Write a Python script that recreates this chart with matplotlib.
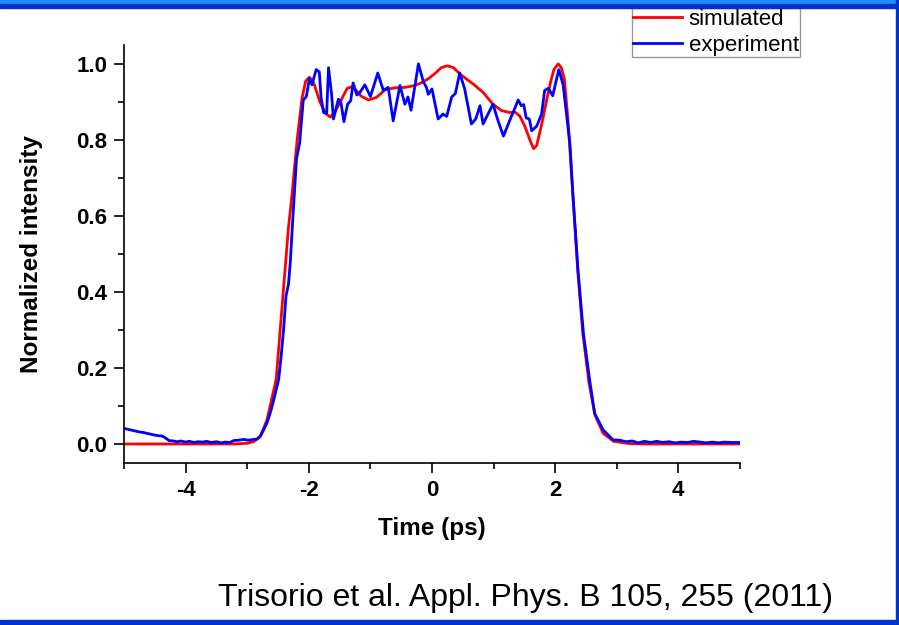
import matplotlib
matplotlib.use("Agg")
import matplotlib.pyplot as plt
from matplotlib.patches import Rectangle
from matplotlib.ticker import MultipleLocator

plt.rcParams["font.family"] = ["Liberation Sans", "DejaVu Sans"]

# simulated pulse (red)
sim_t = [-5.0, -3.2, -3.0, -2.9, -2.79, -2.68, -2.6, -2.53, -2.45, -2.40, -2.33, -2.27,
         -2.19, -2.11, -2.05, -1.99, -1.92, -1.82, -1.73, -1.65, -1.57, -1.49, -1.38,
         -1.30, -1.25, -1.15, -1.03, -0.9, -0.76, -0.6, -0.44, -0.28, -0.15, -0.05,
         0.05, 0.15, 0.25, 0.35, 0.45, 0.56, 0.67, 0.83, 0.99, 1.13, 1.26, 1.35, 1.43,
         1.51, 1.59, 1.65, 1.70, 1.78, 1.86, 1.93, 1.98, 2.05, 2.10, 2.15, 2.21, 2.29,
         2.37, 2.45, 2.55, 2.65, 2.78, 2.95, 3.2, 3.5, 5.0]
sim_v = [0.0, 0.0, 0.002, 0.006, 0.019, 0.063, 0.12, 0.17, 0.33, 0.43, 0.57, 0.66,
         0.80, 0.91, 0.955, 0.965, 0.95, 0.90, 0.87, 0.86, 0.875, 0.90, 0.935,
         0.94, 0.934, 0.915, 0.905, 0.912, 0.932, 0.937, 0.938, 0.943, 0.952, 0.962,
         0.975, 0.99, 0.995, 0.99, 0.974, 0.96, 0.947, 0.925, 0.894, 0.877, 0.872, 0.873, 0.862,
         0.835, 0.80, 0.777, 0.785, 0.84, 0.903, 0.955, 0.985, 1.0, 0.99, 0.96, 0.85, 0.65,
         0.45, 0.29, 0.16, 0.075, 0.028, 0.007, 0.001, 0.0, 0.0]

# measured pulse (blue)
exp_t = [-5.0, -4.92, -4.84, -4.76, -4.68, -4.6, -4.52, -4.45, -4.38, -4.32, -4.27, -4.2,
         -4.14, -4.08, -4.0, -3.94, -3.86, -3.8, -3.72, -3.66, -3.58, -3.5, -3.42, -3.36,
         -3.28, -3.22, -3.14, -3.06, -2.98, -2.9, -2.84, -2.79, -2.74, -2.68, -2.62, -2.57,
         -2.49, -2.45, -2.41, -2.37, -2.33, -2.30, -2.27, -2.23, -2.20, -2.15, -2.09, -2.04,
         -1.99, -1.95, -1.88, -1.83, -1.80, -1.76, -1.71, -1.68, -1.63, -1.60, -1.52, -1.48,
         -1.43, -1.37, -1.32, -1.28, -1.22, -1.17, -1.09, -1.0, -0.88, -0.79, -0.71, -0.63,
         -0.52, -0.44, -0.39, -0.34, -0.22, -0.14, -0.09, -0.06, 0.0, 0.10, 0.18, 0.24,
         0.32, 0.38, 0.45, 0.53, 0.64, 0.71, 0.78, 0.83, 0.99, 1.07, 1.16, 1.26, 1.40, 1.45,
         1.49, 1.53, 1.58, 1.62, 1.70, 1.78, 1.83, 1.89, 1.96, 2.06, 2.13, 2.24, 2.29, 2.37,
         2.46, 2.56, 2.64, 2.78, 2.94, 3.05, 3.15, 3.25, 3.35, 3.45, 3.55, 3.65, 3.75, 3.85,
         3.95, 4.05, 4.15, 4.25, 4.35, 4.45, 4.55, 4.65, 4.75, 4.85, 5.0]
exp_v = [0.041, 0.038, 0.035, 0.032, 0.03, 0.027, 0.024, 0.022, 0.021, 0.015, 0.009, 0.008,
         0.006, 0.008, 0.005, 0.007, 0.004, 0.006, 0.005, 0.007, 0.004, 0.006, 0.003, 0.005,
         0.004, 0.009, 0.01, 0.012, 0.01, 0.012, 0.013, 0.02, 0.035, 0.055, 0.085, 0.116,
         0.169, 0.23, 0.30, 0.39, 0.42, 0.48, 0.565, 0.67, 0.75, 0.79, 0.905, 0.914,
         0.962, 0.945, 0.985, 0.979, 0.91, 0.872, 0.87, 0.99, 0.92, 0.855, 0.907, 0.9,
         0.848, 0.894, 0.903, 0.95, 0.918, 0.925, 0.945, 0.914, 0.976, 0.93, 0.938, 0.85,
         0.943, 0.894, 0.913, 0.878, 1.0, 0.953, 0.938, 0.92, 0.934, 0.855, 0.868, 0.862,
         0.913, 0.922, 0.976, 0.935, 0.842, 0.855, 0.89, 0.842, 0.894, 0.852, 0.81, 0.85, 0.905, 0.89,
         0.893, 0.858, 0.855, 0.824, 0.836, 0.868, 0.93, 0.936, 0.916, 0.985, 0.945, 0.79, 0.653, 0.46,
         0.29, 0.169, 0.081, 0.037, 0.011, 0.01, 0.006, 0.008, 0.003, 0.007, 0.004, 0.007, 0.004, 0.006,
         0.003, 0.005, 0.004, 0.007, 0.005, 0.003, 0.005, 0.003, 0.005, 0.004, 0.004]

fig = plt.figure(figsize=(8.99, 6.25), dpi=100)
ax = fig.add_axes([0.138, 0.2592, 0.685, 0.669])

ax.plot(sim_t, sim_v, color="#ff0000", lw=2.0, label="simulated")
ax.plot(exp_t, exp_v, color="#0000ff", lw=2.0, label="experiment")

ax.set_xlim(-5, 5)
ax.set_ylim(-0.05, 1.05)
ax.xaxis.set_major_locator(MultipleLocator(2))
ax.xaxis.set_minor_locator(MultipleLocator(1))
ax.yaxis.set_major_locator(MultipleLocator(0.2))
ax.yaxis.set_minor_locator(MultipleLocator(0.1))
ax.set_xticks([-4, -2, 0, 2, 4])
ax.set_xticklabels(["-4", "-2", "0", "2", "4"])

for s in ["top", "right"]:
    ax.spines[s].set_visible(False)
for s in ["left", "bottom"]:
    ax.spines[s].set_linewidth(1.2)
ax.tick_params(which="major", direction="out", length=7, width=1.2, pad=5, labelsize=16)
ax.tick_params(which="minor", direction="out", length=4, width=1.2)
for lab in ax.get_xticklabels() + ax.get_yticklabels():
    lab.set_fontweight("bold")

ax.set_xlabel("Time (ps)", fontsize=17.5, fontweight="bold", labelpad=12)
ax.set_ylabel("Normalized intensity", fontsize=17.5, fontweight="bold", labelpad=24)

fig.legend(loc="upper left", bbox_to_anchor=(632 / 899, 1 - 8 / 625), fontsize=16,
           frameon=True, fancybox=False, edgecolor="#999999", framealpha=1,
           handlelength=2.2, handletextpad=0.3, borderpad=0.05, labelspacing=0.2,
           borderaxespad=0)

fig.text(525 / 899, 1 - 598 / 625, "Trisorio et al. Appl. Phys. B 105, 255 (2011)",
         fontsize=23, ha="center", va="center")

# slide frame
fig.add_artist(Rectangle((0, 1 - 3 / 625), 1, 3 / 625, transform=fig.transFigure,
                         color="#1e8fff", zorder=10))
fig.add_artist(Rectangle((0, 1 - 7.5 / 625), 1, 4 / 625, transform=fig.transFigure,
                         color="#0033cc", zorder=10))
fig.add_artist(Rectangle((1 - 3.5 / 899, 0), 3.5 / 899, 1, transform=fig.transFigure,
                         color="#0033cc", zorder=10))
fig.add_artist(Rectangle((0, 0), 1, 5 / 625, transform=fig.transFigure,
                         color="#0033cc", zorder=10))

fig.savefig("out.png", dpi=100)
